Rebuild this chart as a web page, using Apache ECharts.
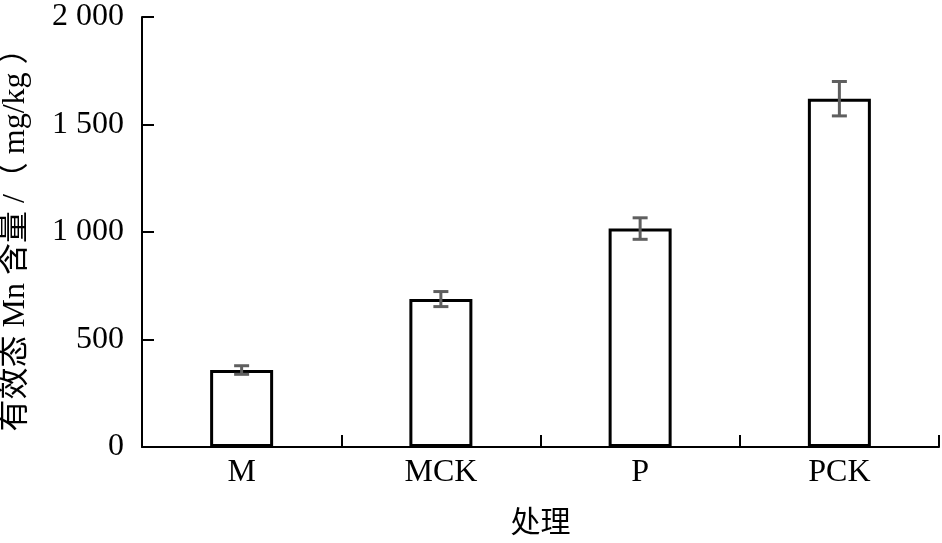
<!DOCTYPE html>
<html><head><meta charset="utf-8">
<script src="https://cdn.jsdelivr.net/npm/echarts@6/dist/echarts.min.js"></script>
<style>html,body{margin:0;padding:0;background:#fff}#c{width:942px;height:543px}</style>
</head><body><div id="c"></div>
<script>
var categories = ['M', 'MCK', 'P', 'PCK'];
var values = [358, 688, 1016, 1620];
var errors = [20, 35, 50, 80];
var yTicks = [0, 500, 1000, 1500, 2000];

var chart = echarts.init(document.getElementById('c'), null, {renderer: 'canvas'});
var serif = '"Liberation Serif", "Times New Roman", "Noto Sans CJK SC", serif';
var errData = categories.map(function (c, i) { return [i, values[i] - errors[i], values[i] + errors[i]]; });
chart.setOption({
  animation: false,
  grid: {left: 142, right: 3, top: 17, bottom: 96, containLabel: false, outerBoundsMode: 'none'},
  xAxis: {
    type: 'category', data: categories,
    name: '处理', nameLocation: 'middle', nameGap: 62,
    nameTextStyle: {fontFamily: serif, fontSize: 30, color: '#000'},
    axisLine: {lineStyle: {color: '#000', width: 2}},
    axisTick: {show: true, interval: 0, inside: true, length: 12, lineStyle: {color: '#000', width: 2}},
    axisLabel: {fontFamily: serif, fontSize: 32, color: '#000', margin: 10}
  },
  yAxis: {
    type: 'value', min: 0, max: 2000, interval: 500,
    name: '有效态 Mn 含量 /（ mg/kg ）', nameLocation: 'middle', nameGap: 110, nameRotate: 90,
    nameTextStyle: {fontFamily: serif, fontSize: 32, color: '#000'},
    splitLine: {show: false},
    axisLine: {show: true, lineStyle: {color: '#000', width: 2}},
    axisTick: {show: true, inside: true, length: 12, lineStyle: {color: '#000', width: 2}},
    axisLabel: {fontFamily: serif, fontSize: 32, color: '#000', margin: 18,
      formatter: function (v) { return String(v).replace(/\B(?=(\d{3})+(?!\d))/g, ' '); }}
  },
  series: [{
    type: 'bar', data: values, barWidth: 63,
    itemStyle: {color: '#fff', borderColor: '#000', borderWidth: 3}
  }, {
    type: 'custom', data: errData, z: 10,
    renderItem: function (params, api) {
      var x = api.value(0);
      var lo = api.coord([x, api.value(1)]);
      var hi = api.coord([x, api.value(2)]);
      var hw = 7.5;
      var st = {stroke: '#5f5f5f', lineWidth: 3};
      return {type: 'group', children: [
        {type: 'line', shape: {x1: lo[0], y1: lo[1], x2: hi[0], y2: hi[1]}, style: st},
        {type: 'line', shape: {x1: lo[0] - hw, y1: lo[1], x2: lo[0] + hw, y2: lo[1]}, style: st},
        {type: 'line', shape: {x1: hi[0] - hw, y1: hi[1], x2: hi[0] + hw, y2: hi[1]}, style: st}
      ]};
    }
  }]
});
</script></body></html>
